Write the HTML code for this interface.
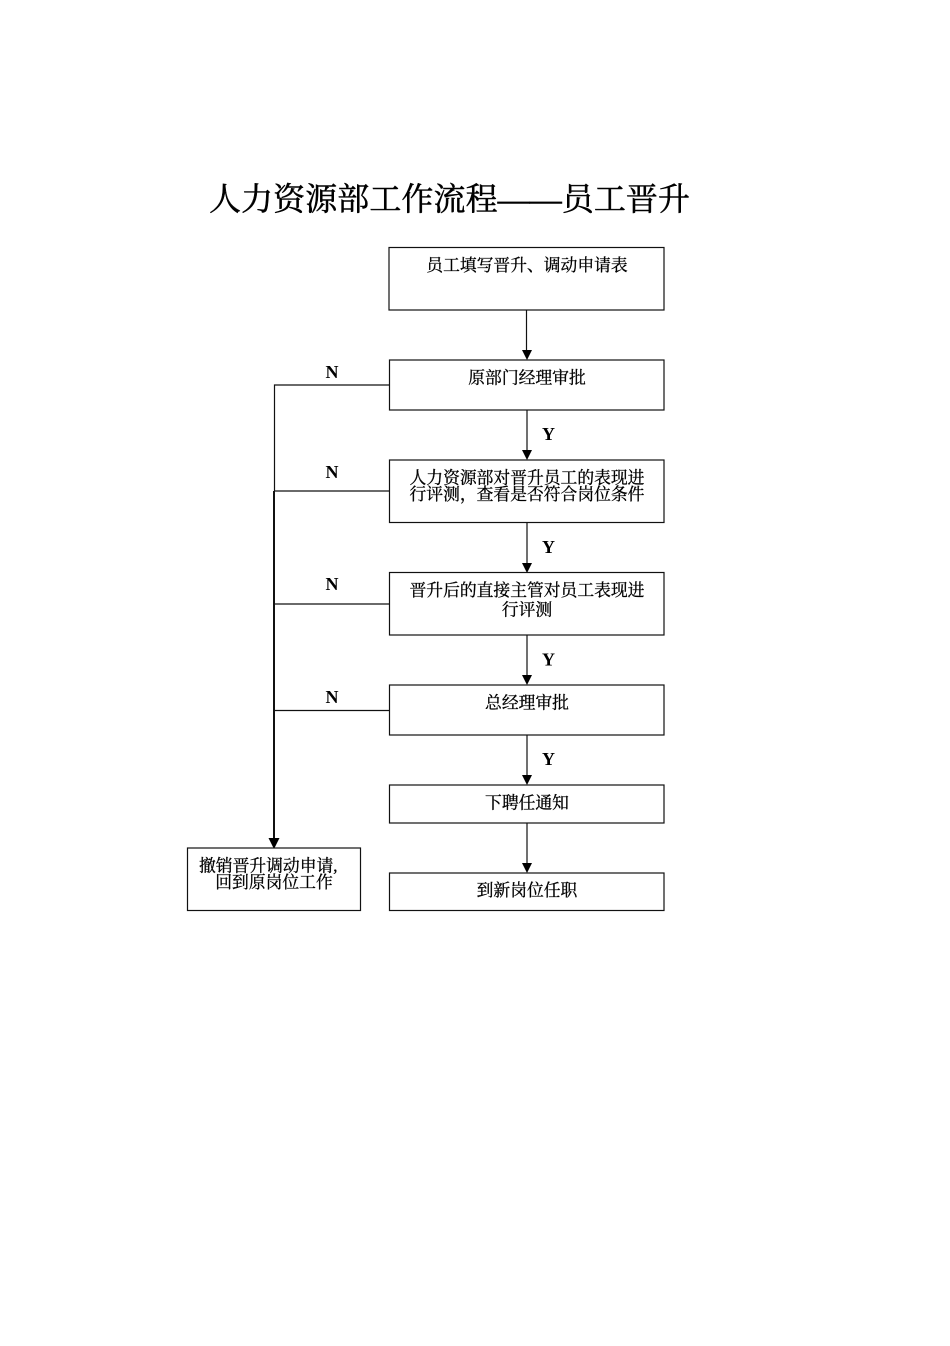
<!DOCTYPE html>
<html lang="zh">
<head>
<meta charset="utf-8">
<style>
html,body{margin:0;padding:0;background:#fff;width:950px;height:1346px;overflow:hidden}
svg{display:block}
text{font-family:"Liberation Serif","Noto Serif CJK SC",serif;fill:#000}
.t{font-size:16.8px;text-anchor:middle;stroke:#000;stroke-width:.3px}
.l{font-size:18px;font-weight:bold;text-anchor:middle}
rect{fill:#fff;stroke:#111;stroke-width:1.2}
line,polyline{stroke:#111;stroke-width:1.2;fill:none}
polygon{fill:#000}
</style>
</head>
<body>
<svg width="950" height="1346" viewBox="0 0 950 1346" xmlns="http://www.w3.org/2000/svg">
<text x="209" y="210" font-size="32" textLength="481" lengthAdjust="spacing" stroke="#000" stroke-width=".5">人力资源部工作流程——员工晋升</text>

<polyline points="389.5,385 274.5,385 274.5,491"/>
<line x1="274" y1="491" x2="389.5" y2="491"/>
<line x1="274" y1="604" x2="389.5" y2="604"/>
<line x1="274" y1="710.5" x2="389.5" y2="710.5"/>
<line x1="274" y1="491" x2="274" y2="840" style="stroke-width:2"/>
<polygon points="268.5,838 279.5,838 274,849"/>

<line x1="526.5" y1="310" x2="526.5" y2="352"/>
<polygon points="522,350 532,350 527,360"/>
<line x1="527" y1="410" x2="527" y2="452"/>
<polygon points="522,450 532,450 527,460"/>
<line x1="527" y1="522" x2="527" y2="565"/>
<polygon points="522,563 532,563 527,573"/>
<line x1="527" y1="635" x2="527" y2="677"/>
<polygon points="522,675 532,675 527,685"/>
<line x1="527" y1="735" x2="527" y2="777"/>
<polygon points="522,775 532,775 527,785"/>
<line x1="527" y1="823" x2="527" y2="865"/>
<polygon points="522,863 532,863 527,873"/>

<rect x="389" y="247.5" width="275" height="62.5"/>
<rect x="389.5" y="360" width="274.5" height="50"/>
<rect x="389.5" y="460" width="274.5" height="62.5"/>
<rect x="389.5" y="572.5" width="274.5" height="62.5"/>
<rect x="389.5" y="685" width="274.5" height="50"/>
<rect x="389.5" y="785" width="274.5" height="38"/>
<rect x="389.5" y="873" width="274.5" height="37.5"/>
<rect x="187.5" y="848" width="173" height="62.5"/>

<text class="t" x="527" y="271">员工填写晋升、调动申请表</text>
<text class="t" x="527" y="383.5">原部门经理审批</text>
<text class="t" x="527" y="483.5">人力资源部对晋升员工的表现进</text>
<text class="t" x="527" y="500">行评测，查看是否符合岗位条件</text>
<text class="t" x="527" y="596">晋升后的直接主管对员工表现进</text>
<text class="t" x="527" y="615.5">行评测</text>
<text class="t" x="527" y="708.5">总经理审批</text>
<text class="t" x="527" y="808.5">下聘任通知</text>
<text class="t" x="527" y="896">到新岗位任职</text>
<text class="t" x="199" y="871.5" style="text-anchor:start">撤销晋升调动申请,</text>
<text class="t" x="274" y="888">回到原岗位工作</text>

<text class="l" x="332" y="378">N</text>
<text class="l" x="332" y="478">N</text>
<text class="l" x="332" y="590">N</text>
<text class="l" x="332" y="703">N</text>
<text class="l" x="548.5" y="440">Y</text>
<text class="l" x="548.5" y="553">Y</text>
<text class="l" x="548.5" y="665.5">Y</text>
<text class="l" x="548.5" y="765">Y</text>
</svg>
</body>
</html>
